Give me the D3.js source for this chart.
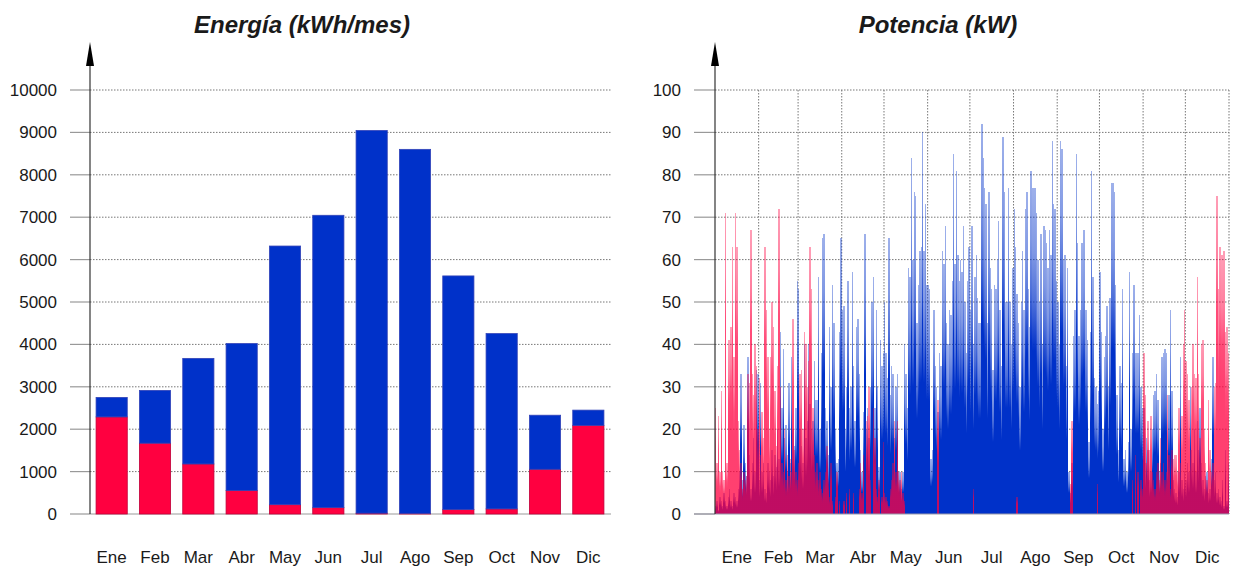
<!DOCTYPE html>
<html>
<head>
<meta charset="utf-8">
<script src="https://cdn.jsdelivr.net/npm/d3@7"></script>
<style>
  body { margin: 0; background: #fff; }
  text { font-family: Arial, "Liberation Sans", sans-serif; fill: #1a1a1a; }
</style>
</head>
<body>
<svg id="chart" width="1234" height="572"></svg>
<script>
// --- datos ---
var meses = ["Ene","Feb","Mar","Abr","May","Jun","Jul","Ago","Sep","Oct","Nov","Dic"];
// energia mensual (kWh/mes): parte roja (abajo) y parte azul (arriba)
var energiaRoja = [2290, 1670, 1180, 555, 220, 150, 20, 15, 105, 120, 1055, 2090];
var energiaAzul = [460, 1245, 2490, 3465, 6100, 6895, 9025, 8585, 5510, 4135, 1275, 360];
var ticksEnergia = [0,1000,2000,3000,4000,5000,6000,7000,8000,9000,10000];
var ticksPotencia = [0,10,20,30,40,50,60,70,80,90,100];

// potencia pico diaria (kW), 365 dias
var potenciaAzul = [
  // ene
  2,3,1,4,3,2,5,3,2,4,6,3,2,5,4,3,6,10,33,8,21,12,9,37,14,6,12,18,10,34,33,
  // feb
  8,31,10,12,6,5,12,10,8,15,9,14,11,20,13,43,25,39,18,21,10,31,12,37,20,16,25,55,
  // mar
  53,20,16,12,40,18,22,40,26,20,22,36,27,27,56,20,38,65,66,25,22,14,44,30,54,45,20,12,13,43,65,
  // abr
  48,49,20,30,55,25,30,57,35,22,44,46,33,15,10,24,66,20,25,18,30,50,56,25,48,30,11,41,35,38,
  // may
  50,38,32,65,28,35,33,18,30,33,10,10,6,10,40,33,25,58,56,84,60,76,75,45,54,62,63,90,62,73,54,
  // jun
  54,53,13,15,48,35,30,24,38,35,62,59,68,45,40,48,47,55,85,59,81,61,55,60,57,68,50,38,55,63,
  // jul
  48,68,40,56,61,51,45,45,92,84,77,73,45,76,58,53,34,54,53,60,69,48,35,89,76,50,50,77,50,40,58,
  // ago
  72,63,52,45,30,50,62,48,72,76,53,44,81,77,77,77,71,60,50,66,40,68,67,64,58,67,61,88,73,72,55,
  // sep
  50,40,88,86,60,61,35,58,10,5,12,42,48,85,64,42,48,64,67,67,48,41,17,43,81,56,32,30,26,29,
  // oct
  57,43,20,37,42,49,30,51,78,78,76,54,28,15,35,31,53,13,15,10,17,57,20,38,54,38,38,38,47,30,25,
  // nov
  25,12,18,15,8,10,20,28,29,33,27,10,12,37,38,39,38,15,28,48,29,8,6,5,4,10,37,8,6,10,
  // dic
  8,12,10,30,15,12,20,10,22,15,25,12,8,6,9,10,5,6,13,37,8,10,5,6,4,3,8,2,15,3,12
];
var potenciaRoja = [
  // ene
  25,12,23,10,29,10,8,71,12,41,41,44,63,37,71,63,22,15,12,6,10,8,9,33,31,67,33,28,40,35,20,
  // feb
  32,14,24,18,63,48,37,20,37,50,44,29,16,35,72,30,12,10,20,8,14,9,13,10,46,15,10,8,
  // mar
  12,33,34,20,43,40,30,36,63,53,25,14,10,12,8,10,6,5,8,10,16,8,4,12,3,0,4,10,0,3,0,
  // abr
  0,3,0,5,0,6,0,0,5,0,0,0,6,12,5,14,0,22,23,30,8,0,25,18,6,4,8,0,4,17,
  // may
  5,4,3,2,6,8,12,22,10,22,10,8,10,5,3,0,0,0,0,0,0,0,0,0,0,0,0,0,0,0,0,
  // jun
  0,0,0,0,0,0,0,27,0,0,0,0,0,0,0,0,0,0,0,0,0,0,0,0,0,0,0,0,0,0,
  // jul
  0,0,6,0,0,0,0,0,0,0,0,0,0,0,0,0,0,0,0,0,0,0,0,0,0,0,0,0,0,0,0,
  // ago
  0,0,4,0,0,0,0,0,0,0,0,0,0,0,0,0,0,0,0,0,0,0,0,0,0,0,0,0,0,0,0,
  // sep
  0,0,0,0,0,0,0,0,0,7,22,0,0,0,0,0,0,0,0,0,0,0,0,0,0,0,0,0,7,0,
  // oct
  0,0,0,0,0,0,0,0,0,0,0,0,0,0,0,0,0,0,0,0,0,0,0,8,0,14,0,10,0,8,6,
  // nov
  38,28,12,22,15,23,10,8,6,10,12,8,18,10,12,8,10,28,14,6,15,13,14,14,10,25,12,23,40,48,
  // dic
  36,33,27,15,30,40,33,32,56,33,18,40,41,20,12,8,27,15,10,12,30,31,75,53,63,61,61,62,43,44,38
];

var AZUL = "#0031c9", ROJO = "#ff0040";

var svg = d3.select("#chart");

// gradientes para las lineas de potencia (oscuro abajo, claro arriba)
var defs = svg.append("defs");
function grad(id, color, base) {
  var g = defs.append("linearGradient").attr("id", id)
    .attr("x1", 0).attr("y1", 1).attr("x2", 0).attr("y2", 0);
  g.append("stop").attr("offset", 0).attr("stop-color", color).attr("stop-opacity", base);
  g.append("stop").attr("offset", 0.5).attr("stop-color", color).attr("stop-opacity", base);
  g.append("stop").attr("offset", 0.65).attr("stop-color", color).attr("stop-opacity", 0.7);
  g.append("stop").attr("offset", 0.8).attr("stop-color", color).attr("stop-opacity", 0.5);
  g.append("stop").attr("offset", 1).attr("stop-color", color).attr("stop-opacity", 0.38);
}
grad("gAzul", AZUL, 1);
grad("gRoja", ROJO, 0.75);

function flecha(x, yTop) {
  svg.append("line").attr("x1", x).attr("x2", x).attr("y1", 514).attr("y2", yTop + 20)
    .attr("stroke", "#333").attr("stroke-width", 1.2);
  svg.append("path")
    .attr("d", "M" + x + "," + yTop + "L" + (x - 4) + "," + (yTop + 24) + "L" + (x + 4) + "," + (yTop + 24) + "Z")
    .attr("fill", "#000");
}

// ================= Energia =================
var x1 = d3.scaleBand().domain(meses).range([90, 610]).paddingInner(0.28).paddingOuter(0.14);
var y1 = d3.scaleLinear().domain([0, 10000]).range([514, 90]);

var g1 = svg.append("g");
ticksEnergia.forEach(function(t) {
  g1.append("line").attr("x1", 70).attr("x2", 90).attr("y1", y1(t)).attr("y2", y1(t))
    .attr("stroke", "#999").attr("stroke-width", 1.2);
  g1.append("line").attr("x1", 90).attr("x2", 611).attr("y1", y1(t)).attr("y2", y1(t))
    .attr("stroke", t === 0 ? "#999" : "#777").attr("stroke-width", 1)
    .attr("stroke-dasharray", t === 0 ? null : "1.5,1.5");
  g1.append("text").attr("x", 57).attr("y", y1(t)).attr("dy", "0.35em")
    .attr("text-anchor", "end").style("font-size", "17px").text(t);
});

var tabla = meses.map(function(m, i) { return { mes: m, roja: energiaRoja[i], azul: energiaAzul[i] }; });
var capas = d3.stack().keys(["roja", "azul"])(tabla);
g1.selectAll("g.capa").data(capas).enter().append("g").attr("class", "capa")
  .attr("fill", function(d) { return d.key === "roja" ? ROJO : AZUL; })
  .attr("stroke", function(d) { return d.key === "roja" ? "#c0003a" : "#3344b8"; })
  .attr("stroke-width", 0.8)
  .selectAll("rect").data(function(d) { return d; }).enter().append("rect")
  .attr("x", function(d) { return x1(d.data.mes); })
  .attr("width", x1.bandwidth())
  .attr("y", function(d) { return y1(d[1]); })
  .attr("height", function(d) { return y1(d[0]) - y1(d[1]); });

meses.forEach(function(m) {
  g1.append("text").attr("x", x1(m) + x1.bandwidth() / 2).attr("y", 563)
    .attr("text-anchor", "middle").style("font-size", "17px").text(m);
});
flecha(90, 42);
svg.append("text").attr("x", 302).attr("y", 33).attr("text-anchor", "middle")
  .style("font-size", "24px").style("font-weight", "bold").style("font-style", "italic")
  .text("Energía (kWh/mes)");

// ================= Potencia =================
var inicio = new Date(2023, 0, 1), fin = new Date(2024, 0, 1);
var x2 = d3.scaleTime().domain([inicio, fin]).range([715, 1229]);
var y2 = d3.scaleLinear().domain([0, 100]).range([514, 90]);

var g2 = svg.append("g");
ticksPotencia.forEach(function(t) {
  g2.append("line").attr("x1", 694).attr("x2", 715).attr("y1", y2(t)).attr("y2", y2(t))
    .attr("stroke", "#999").attr("stroke-width", 1.2);
  if (t > 0) {
    g2.append("line").attr("x1", 715).attr("x2", 1229).attr("y1", y2(t)).attr("y2", y2(t))
      .attr("stroke", "#777").attr("stroke-dasharray", "1.5,1.5");
  }
  g2.append("text").attr("x", 681).attr("y", y2(t)).attr("dy", "0.35em")
    .attr("text-anchor", "end").style("font-size", "17px").text(t);
});
d3.timeMonth.range(new Date(2023, 1, 1), d3.timeDay.offset(fin, 1)).forEach(function(d) {
  g2.append("line").attr("x1", x2(d)).attr("x2", x2(d)).attr("y1", 90).attr("y2", 514)
    .attr("stroke", "#777").attr("stroke-dasharray", "1.5,1.5");
});

function barras(datos, fill) {
  g2.append("g").attr("shape-rendering", "crispEdges")
    .selectAll("rect").data(datos).enter().append("rect")
    .attr("x", function(d, i) { return x2(d3.timeDay.offset(inicio, i)); })
    .attr("width", function(d, i) { return x2(d3.timeDay.offset(inicio, i + 1)) - x2(d3.timeDay.offset(inicio, i)); })
    .attr("y", function(d) { return y2(d); })
    .attr("height", function(d) { return y2(0) - y2(d); })
    .attr("fill", fill);
}
barras(potenciaAzul, "url(#gAzul)");
barras(potenciaRoja, "url(#gRoja)");

g2.append("line").attr("x1", 694).attr("x2", 1229).attr("y1", 514).attr("y2", 514)
  .attr("stroke", "#99a").attr("stroke-width", 1.2);

d3.timeMonth.range(inicio, fin).forEach(function(d, i) {
  var mid = new Date((d.getTime() + d3.timeMonth.offset(d, 1).getTime()) / 2);
  g2.append("text").attr("x", x2(mid)).attr("y", 563)
    .attr("text-anchor", "middle").style("font-size", "17px").text(meses[i]);
});
flecha(715, 42);
svg.append("text").attr("x", 938).attr("y", 33).attr("text-anchor", "middle")
  .style("font-size", "24px").style("font-weight", "bold").style("font-style", "italic")
  .text("Potencia (kW)");
</script>
</body>
</html>
